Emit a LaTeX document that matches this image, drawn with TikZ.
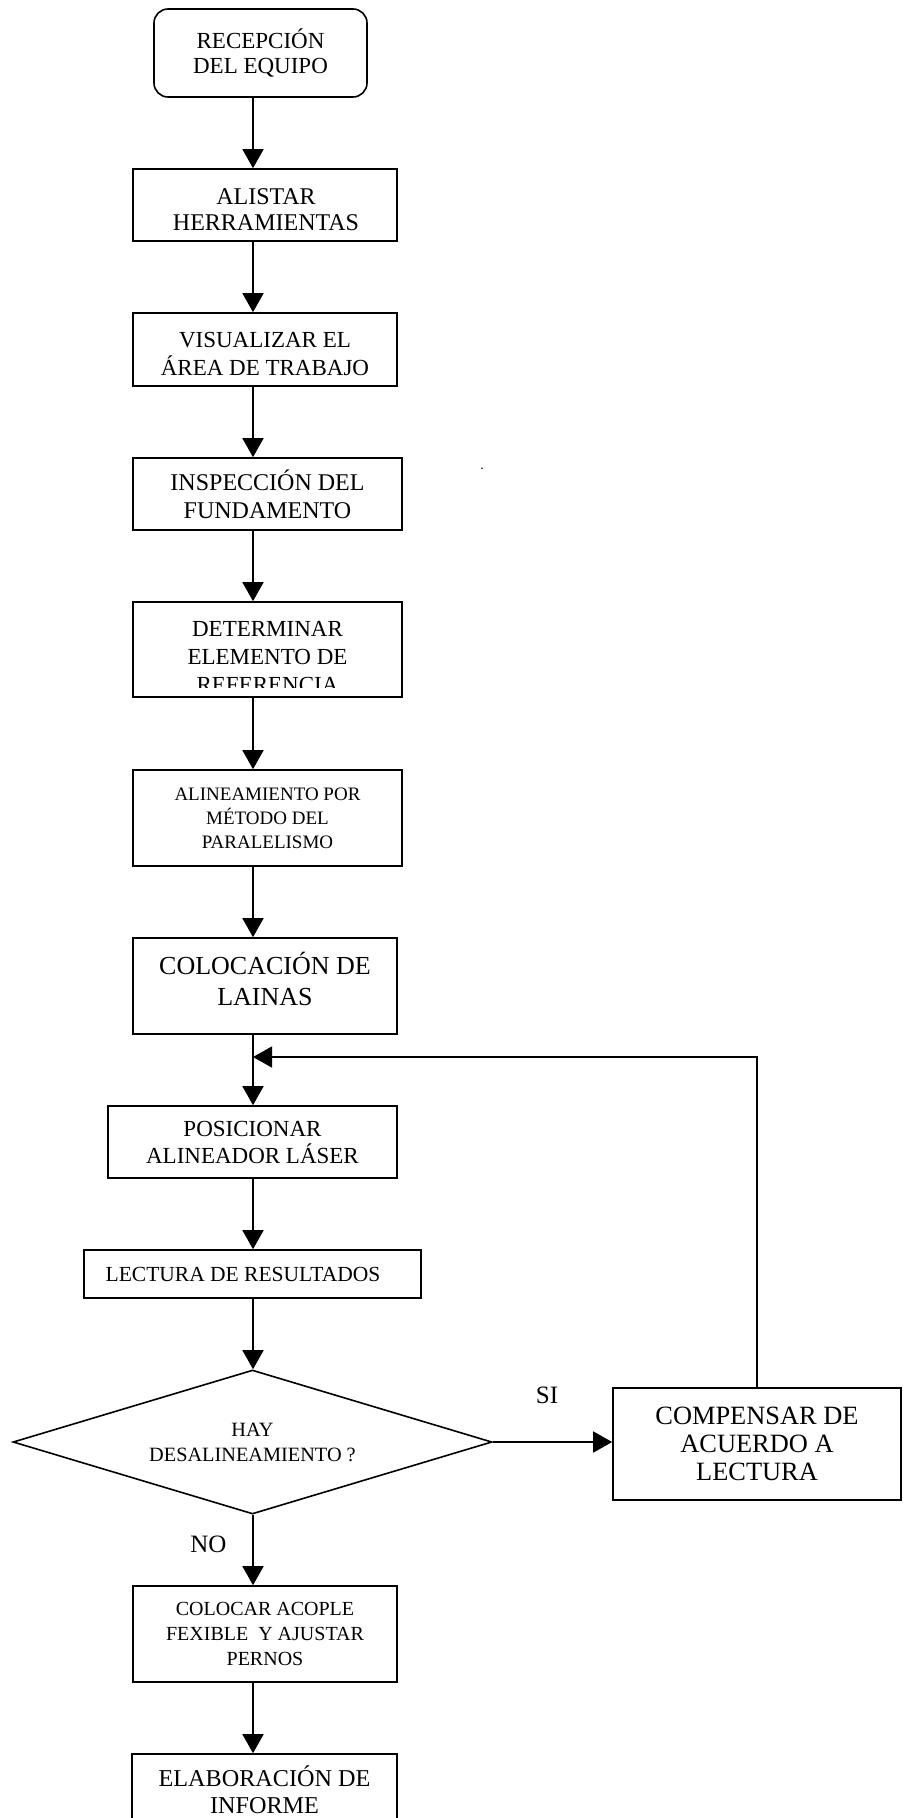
\documentclass[tikz,border=0pt]{standalone}
\usepackage{fontspec}
\setmainfont{Liberation Serif}
\usetikzlibrary{arrows.meta,shapes.geometric}
\newcommand\myfs[2]{\fontsize{#1}{#2}\selectfont}
\begin{document}
\begin{tikzpicture}[x=1pt,y=-1pt,
  box/.style={draw, line width=1.6pt, rectangle, align=center, inner sep=0pt},
  conn/.style={line width=1.6pt, -{Triangle[length=19pt,width=21pt]}},
  txt/.style={inner sep=0pt, align=center},
  lbl/.style={inner sep=0pt, font=\myfs{25}{28}}]
\clip (0,0) rectangle (906,1818);
\fill[white] (0,0) rectangle (906,1818);
\coordinate (col) at (253,0);

% process steps
\node[box, rounded corners=14pt, minimum width=213pt, minimum height=88pt, font=\myfs{23}{25}] (start) at (260.5,53) {RECEPCIÓN\\DEL EQUIPO};
\node[box, minimum width=264pt, minimum height=72pt] (alistar) at (265,205) {};
\node[txt, font=\myfs{24}{26}] (alistartxt) at (266,210) {ALISTAR\\HERRAMIENTAS};
\node[box, minimum width=264pt, minimum height=73pt] (visual) at (265,349.5) {};
\node[txt, font=\myfs{23}{28}] (visualtxt) at (265,353.5) {VISUALIZAR EL\\ÁREA DE TRABAJO};
\node[box, minimum width=269pt, minimum height=72pt, font=\myfs{24}{28}] (insp) at (267.5,494) {INSPECCIÓN DEL\\FUNDAMENTO};
\node[box, minimum width=269pt, minimum height=95pt] (determ) at (267.5,649.5) {};
\begin{scope}
  \clip (133,602) rectangle (402,687);
  \node[txt, anchor=north, font=\myfs{23}{28}] (determtxt) at (267.5,621) {DETERMINAR\\ELEMENTO DE\\REFERENCIA};
\end{scope}
\node[box, minimum width=269pt, minimum height=96pt, font=\myfs{19}{24}] (alin) at (267.5,818) {ALINEAMIENTO POR\\MÉTODO DEL\\PARALELISMO};
\node[box, minimum width=264pt, minimum height=96pt] (lainas) at (265,986) {};
\node[txt, font=\myfs{26}{31.5}] (lainastxt) at (265,979) {COLOCACIÓN DE\\LAINAS};
\node[box, minimum width=289pt, minimum height=72pt, font=\myfs{23}{27}] (posic) at (252.5,1142) {POSICIONAR\\ALINEADOR LÁSER};
\node[box, minimum width=337pt, minimum height=48pt] (lect) at (252.5,1274) {};
\node[txt, font=\myfs{21.5}{24}] (lecttxt) at (243,1274) {LECTURA DE RESULTADOS};
\node[draw, diamond, aspect=3.326, line width=1.6pt, minimum width=479pt, minimum height=144pt, inner sep=0pt, align=center, font=\myfs{20.3}{25}] (dia) at (252.5,1442) {HAY\\DESALINEAMIENTO ?};
\node[box, minimum width=288pt, minimum height=112pt, font=\myfs{26.4}{28}] (comp) at (757,1444) {COMPENSAR DE\\ACUERDO A\\LECTURA};
\node[box, minimum width=264pt, minimum height=96pt, font=\myfs{20}{25}] (acople) at (265,1634) {COLOCAR ACOPLE\\FEXIBLE\ \ Y AJUSTAR\\PERNOS};
\node[box, minimum width=265pt, minimum height=96pt] (elab) at (264.5,1802) {};
\node[txt, anchor=north, font=\myfs{24.2}{27}] (elabtxt) at (264.5,1766) {ELABORACIÓN DE\\INFORME};

% branch labels and stray mark
\node[lbl] (si) at (547,1395) {SI};
\node[lbl] (no) at (208.5,1544) {NO};
\node[inner sep=0pt, font=\myfs{14}{14}] (dot) at (482,469) {.};

% connectors along the main column
\draw[conn] (start.south -| col) -- (alistar.north -| col);
\draw[conn] (alistar.south -| col) -- (visual.north -| col);
\draw[conn] (visual.south -| col) -- (insp.north -| col);
\draw[conn] (insp.south -| col) -- (determ.north -| col);
\draw[conn] (determ.south -| col) -- (alin.north -| col);
\draw[conn] (alin.south -| col) -- (lainas.north -| col);
\draw[conn] (lainas.south -| col) -- (posic.north -| col);
\draw[conn] (posic.south -| col) -- (lect.north -| col);
\draw[conn] (lect.south -| col) -- (dia.north -| col);
\draw[conn] (dia.east) -- (dia.east -| comp.west);
\draw[conn] (dia.south -| col) -- (acople.north -| col);
\draw[conn] (acople.south -| col) -- (elab.north -| col);

% feedback loop back to the column
\coordinate (join) at (253,1057);
\draw[conn, line width=1.4pt] (comp.north) |- (join);
\end{tikzpicture}
\end{document}
